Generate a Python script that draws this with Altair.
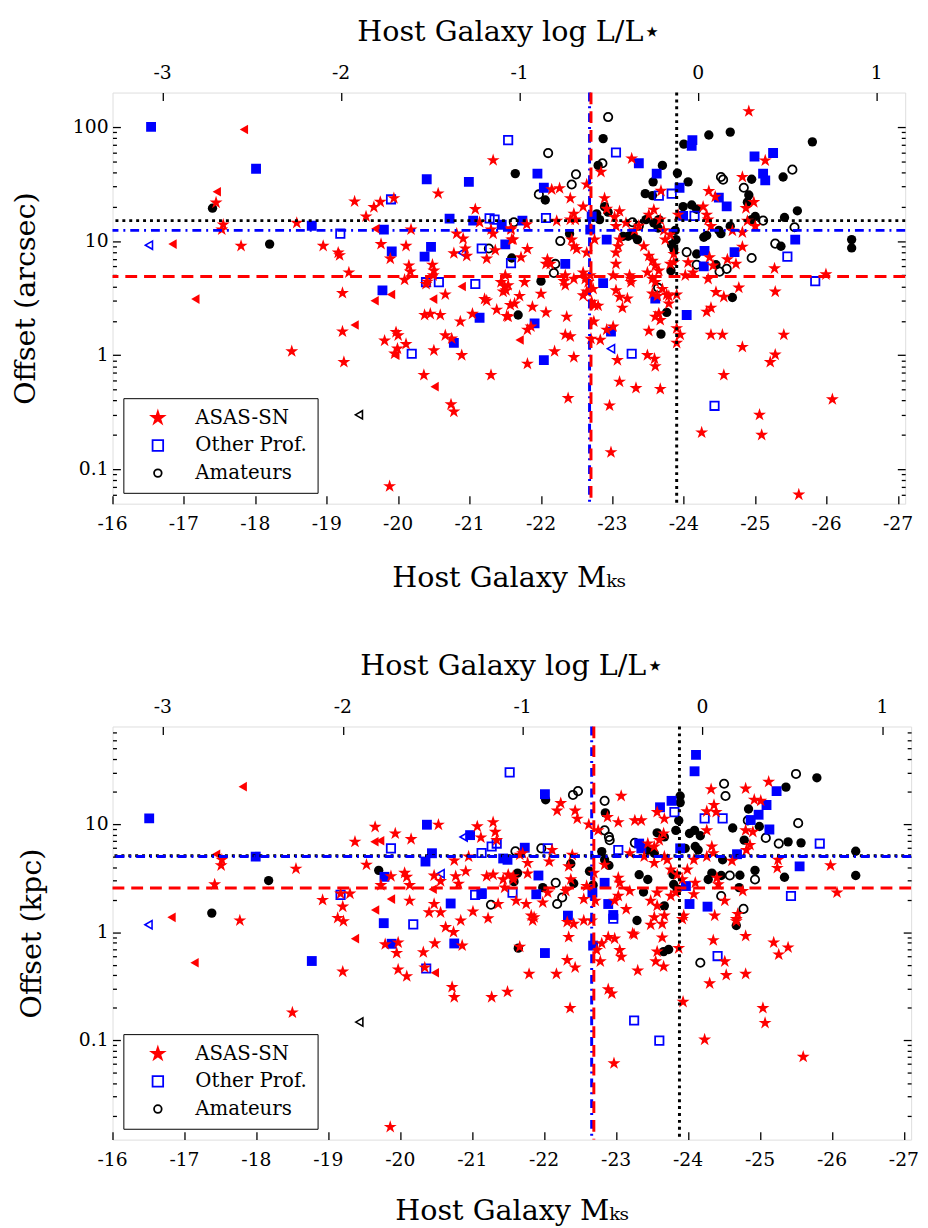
import altair as alt
import pandas as pd

FONT = "DejaVu Serif"
RED, BLUE, BLACK = "#ff0000", "#0000ff", "#000000"
M_STAR = -24.2          # log L/L* = -0.4 (M - M_STAR)

# ---------------- top panel: offset in arcsec ----------------
P1_ASASSN_STAR = [
    (-17.45, 21.7), (-17.55, 13.9), (-17.53, 12.6), (-17.80, 9.06), (-18.58, 14.4), (-18.95, 9.06),
    (-19.16, 7.9), (-19.18, 7.5), (-19.31, 5.3), (-19.22, 3.5), (-19.39, 22.2), (-19.55, 16.4),
    (-19.66, 19.8), (-19.75, 22.0), (-19.94, 23.7), (-19.76, 9.4), (-19.89, 7.0), (-20.18, 12.6),
    (-20.11, 9.06), (-20.15, 6.1), (-20.17, 5.4), (-20.09, 4.57), (-20.48, 6.2), (-20.50, 5.5),
    (-20.49, 5.0), (-20.41, 4.4), (-20.66, 3.4), (-20.56, 26.1), (-20.82, 11.6), (-20.91, 10.5),
    (-20.94, 8.6), (-20.96, 7.4), (-20.78, 7.8), (-21.08, 19.0), (-21.14, 14.6), (-21.33, 51.0),
    (-21.30, 12.6), (-21.33, 11.6), (-21.36, 8.3), (-21.24, 7.0), (-21.58, 12.6), (-21.59, 10.3),
    (-21.50, 5.0), (-21.44, 4.36), (-21.49, 4.0), (-21.51, 3.7), (-21.21, 3.1),
    (-20.39, 4.2), (-20.37, 2.25), (-20.45, 2.3), (-20.59, 2.25), (-20.87, 1.97), (-21.04, 2.3),
    (-21.24, 3.0), (-21.38, 2.5), (-21.52, 2.2), (-21.57, 2.75), (-21.47, 3.6), (-19.22, 1.61),
    (-18.51, 1.08), (-19.24, 0.87), (-19.81, 1.34), (-19.97, 1.59), (-20.00, 1.49), (-20.11, 1.25),
    (-19.99, 1.14), (-19.95, 1.03), (-20.50, 1.1), (-20.66, 1.49), (-20.75, 1.4), (-20.89, 1.0),
    (-20.36, 0.67), (-20.74, 0.37), (-20.78, 0.32), (-21.30, 0.67), (-19.88, 0.071),
    (-24.91, 137.0), (-23.27, 52.8), (-22.84, 40.3), (-22.15, 28.3), (-22.26, 29.0), (-22.64, 31.3),
    (-22.41, 23.7), (-23.68, 27.5), (-25.14, 50.7), (-24.82, 36.4), (-24.35, 27.4), (-24.44, 24.4),
    (-24.27, 20.0), (-24.32, 17.0), (-24.34, 15.4), (-24.38, 13.5), (-24.98, 21.9), (-24.87, 19.4),
    (-24.89, 15.0), (-25.00, 13.5), (-25.27, 5.75), (-25.99, 5.1), (-25.28, 3.6), (-24.77, 3.9),
    (-24.68, 12.3), (-24.82, 11.9), (-24.82, 8.9), (-24.61, 6.9), (-24.73, 6.3), (-24.36, 7.2),
    (-24.41, 6.1), (-24.34, 4.66), (-24.06, 6.5), (-24.13, 5.3), (-24.02, 5.0), (-23.81, 11.4),
    (-23.74, 10.3), (-23.86, 7.7), (-23.86, 6.5), (-23.81, 6.3), (-23.44, 9.0), (-23.51, 7.4),
    (-23.56, 6.7), (-23.60, 6.1), (-23.65, 5.5), (-23.49, 5.3), (-23.56, 4.66), (-23.60, 4.36),
    (-23.70, 3.8), (-23.79, 3.3), (-23.63, 3.3), (-23.51, 17.0), (-23.58, 18.8), (-23.67, 15.4),
    (-23.72, 12.4), (-23.37, 13.6), (-23.31, 12.4), (-23.19, 14.4), (-23.05, 13.5), (-23.10, 18.2),
    (-23.03, 16.2), (-23.92, 17.0), (-23.10, 10.3), (-23.08, 9.0), (-23.05, 7.9), (-23.05, 6.3),
    (-23.26, 4.66), (-23.24, 5.0), (-23.01, 5.0), (-21.58, 12.9), (-21.61, 10.3), (-21.72, 7.2),
    (-21.81, 8.5), (-21.80, 14.0), (-22.22, 15.0), (-22.46, 17.3), (-22.41, 15.4), (-22.48, 15.4),
    (-22.59, 20.0), (-22.89, 23.7), (-22.92, 19.1), (-22.75, 10.3), (-22.64, 7.9), (-22.46, 9.0),
    (-22.50, 8.5), (-22.43, 10.3), (-22.09, 6.9), (-22.07, 6.3), (-22.13, 6.3), (-22.34, 5.0),
    (-22.32, 4.45), (-22.46, 4.66), (-22.59, 5.3), (-22.62, 4.66), (-22.69, 5.0), (-22.66, 4.36),
    (-22.73, 3.8), (-22.64, 3.6), (-21.54, 4.1), (-21.77, 4.36), (-22.00, 3.45), (-21.70, 3.3),
    (-22.34, 4.1), (-21.86, 1.78), (-21.81, 1.67), (-21.54, 2.17), (-21.63, 2.83), (-21.88, 2.65),
    (-22.07, 2.37), (-21.81, 0.84), (-22.19, 1.08), (-22.46, 0.96), (-22.36, 2.17), (-22.34, 1.51),
    (-22.41, 1.46), (-22.38, 0.42), (-22.59, 3.34), (-22.66, 3.57), (-22.71, 2.93), (-22.75, 2.74),
    (-22.80, 2.71), (-22.74, 1.97), (-22.70, 1.39), (-22.83, 1.36), (-22.92, 1.67), (-23.01, 1.78),
    (-23.07, 0.905), (-23.10, 0.585), (-23.33, 0.515), (-23.67, 0.505), (-22.96, 0.362), (-22.98, 0.141),
    (-23.05, 3.7), (-23.10, 3.24), (-23.14, 2.6), (-23.21, 3.13), (-23.26, 4.36), (-23.56, 3.46),
    (-23.76, 3.39), (-23.90, 3.39), (-23.79, 2.83), (-23.65, 2.32), (-23.60, 2.17), (-23.67, 2.03),
    (-23.51, 1.63), (-23.90, 1.72), (-23.95, 1.51), (-23.90, 1.28), (-23.49, 1.0), (-23.59, 0.93),
    (-23.60, 0.80), (-24.32, 2.4), (-24.38, 2.6), (-24.45, 3.57), (-24.56, 3.24), (-24.38, 1.51),
    (-24.54, 1.51), (-24.82, 1.18), (-25.40, 1.51), (-25.28, 1.01), (-25.21, 0.87), (-24.56, 0.67),
    (-26.08, 0.41), (-25.06, 0.30), (-24.25, 0.21), (-25.09, 0.20), (-25.61, 0.06),
]
P1_ASASSN_TRI = [
    (-17.84, 95.0), (-17.46, 27.0), (-16.84, 9.4), (-19.68, 12.8), (-20.89, 4.0), (-19.90, 3.4),
    (-19.67, 3.0), (-17.16, 3.1), (-20.49, 3.1), (-19.39, 1.84), (-19.96, 1.0), (-20.51, 0.53),
    (-21.70, 1.36),
]
P1_OTHER_SQ_FILLED = [
    (-16.54, 100.0), (-18.01, 43.0), (-18.79, 13.6), (-19.80, 12.6), (-19.91, 8.1), (-20.40, 34.8),
    (-20.37, 7.3), (-20.46, 8.9), (-20.72, 15.7), (-20.99, 33.0), (-21.05, 15.1), (-21.45, 13.9),
    (-21.50, 9.35), (-19.78, 3.7), (-21.14, 2.13), (-20.78, 1.28), (-24.12, 76.6), (-24.11, 68.4),
    (-23.37, 48.0), (-21.95, 39.0), (-22.04, 29.3), (-23.62, 39.0), (-23.94, 29.3), (-24.99, 55.0),
    (-25.25, 59.0), (-25.11, 39.0), (-25.14, 34.0), (-24.49, 24.0), (-24.60, 20.1), (-23.99, 16.6),
    (-25.56, 10.3), (-24.71, 8.0), (-24.29, 8.2), (-24.28, 6.0), (-22.87, 4.28), (-21.74, 15.1),
    (-22.69, 12.6), (-22.71, 16.4), (-22.92, 10.3), (-22.34, 6.3), (-21.91, 1.9), (-22.98, 1.61),
    (-23.60, 3.13), (-24.04, 2.25), (-22.04, 0.905),
]
P1_OTHER_SQ_OPEN = [
    (-19.19, 11.6), (-19.90, 23.2), (-20.39, 4.36), (-20.57, 4.36), (-21.28, 15.8), (-21.35, 15.4),
    (-21.54, 76.6), (-21.17, 8.6), (-21.58, 6.4), (-21.08, 4.2), (-20.19, 1.03), (-23.05, 59.6),
    (-23.65, 25.0), (-23.83, 26.0), (-24.15, 16.6), (-25.45, 7.3), (-25.84, 4.45), (-22.07, 15.9),
    (-23.27, 1.03), (-24.43, 0.36),
]
P1_OTHER_TRI_OPEN = [(-16.51, 9.2), (-20.89, 7.9), (-22.98, 1.14)]
P1_AMAT_CIRC_FILLED = [
    (-17.40, 19.4), (-18.20, 9.4), (-21.64, 39.0), (-21.59, 7.1), (-22.87, 79.0), (-24.35, 85.0),
    (-24.65, 90.0), (-24.00, 70.7), (-25.80, 74.0), (-23.70, 46.0), (-22.80, 46.0), (-22.06, 22.9),
    (-23.57, 33.0), (-23.91, 39.4), (-24.06, 33.0), (-23.46, 26.0), (-23.56, 25.0), (-24.95, 34.8),
    (-25.39, 36.4), (-24.91, 25.3), (-24.89, 21.9), (-25.00, 16.4), (-24.95, 15.4), (-25.41, 16.1),
    (-25.59, 18.4), (-25.36, 9.0), (-26.35, 10.3), (-26.35, 8.7), (-24.68, 3.2), (-24.65, 13.5),
    (-24.49, 12.4), (-24.52, 11.6), (-24.28, 10.8), (-24.32, 11.2), (-24.18, 7.7), (-24.45, 6.2),
    (-23.88, 12.4), (-23.89, 10.3), (-23.83, 9.3), (-23.86, 8.5), (-23.82, 5.5), (-23.28, 11.4),
    (-23.35, 10.3), (-23.64, 13.0), (-23.65, 15.4), (-23.58, 14.4), (-23.99, 20.0), (-24.11, 20.7),
    (-24.18, 19.0), (-23.47, 15.4), (-23.15, 11.0), (-23.22, 11.0), (-22.00, 4.45), (-22.40, 11.6),
    (-22.78, 17.3), (-22.82, 15.4), (-22.89, 20.0), (-22.94, 17.9), (-21.68, 2.25), (-23.76, 2.37),
    (-23.68, 1.53),
]
P1_AMAT_CIRC_OPEN = [
    (-21.27, 8.6), (-21.62, 14.6), (-22.94, 122.0), (-22.10, 59.0), (-22.86, 48.0), (-22.49, 38.4),
    (-22.43, 31.3), (-21.97, 25.6), (-24.52, 36.4), (-24.55, 34.5), (-25.52, 42.2), (-24.84, 29.3),
    (-25.11, 15.1), (-25.55, 13.2), (-25.28, 9.5), (-24.95, 7.1), (-24.18, 6.2), (-24.50, 5.4),
    (-24.60, 5.7), (-24.04, 8.0), (-23.28, 14.6), (-23.37, 13.6), (-22.27, 10.0), (-22.20, 6.3),
    (-22.18, 5.25), (-23.64, 3.9),
]
P1_AMAT_TRI_OPEN = [(-19.45, 0.30)]
P1_HLINES = [15.1, 12.4, 4.9]        # amateurs (dotted), other prof. (dash-dot), ASAS-SN (dashed)
P1_VLINES = [-23.90, -22.68, -22.70]

# ---------------- bottom panel: offset in kpc ----------------
P2_ASASSN_STAR = [
    (-20.53, 9.86), (-19.65, 9.4), (-19.37, 6.85), (-19.93, 8.17), (-20.15, 7.25), (-21.07, 9.5),
    (-21.12, 7.5), (-21.29, 10.4), (-21.32, 8.45), (-21.34, 7.1), (-17.52, 4.67), (-17.51, 4.14),
    (-18.55, 3.86), (-17.42, 2.76), (-17.77, 1.28), (-19.53, 4.2), (-19.87, 3.29), (-20.06, 3.53),
    (-20.09, 3.24), (-20.13, 2.72), (-19.73, 2.72), (-20.75, 4.6), (-20.77, 3.29), (-20.81, 2.8),
    (-20.91, 3.66), (-20.95, 5.0), (-20.47, 3.33), (-20.56, 2.96), (-19.30, 2.27), (-19.17, 2.27),
    (-18.92, 1.98), (-19.20, 1.72), (-19.13, 1.35), (-19.21, 1.26), (-20.13, 1.95), (-20.47, 1.82),
    (-20.40, 1.52), (-20.56, 1.52), (-20.63, 1.11), (-20.74, 1.0), (-20.84, 1.28), (-21.01, 1.55),
    (-21.22, 1.34), (-21.36, 1.82), (-21.20, 3.29), (-21.29, 3.4), (-21.43, 3.07), (-21.45, 2.58),
    (-21.50, 3.4), (-21.57, 3.29), (-21.61, 1.95), (-21.66, 5.2),
    (-18.50, 0.18), (-19.86, 0.0157), (-19.20, 0.43), (-19.79, 0.77), (-19.97, 0.80), (-19.95, 0.64),
    (-19.97, 0.45), (-20.09, 0.39), (-20.32, 0.65), (-20.48, 0.785), (-20.34, 0.47), (-20.72, 0.31),
    (-20.75, 0.25), (-20.86, 0.75), (-21.27, 0.25), (-21.49, 0.28),
    (-25.12, 24.6), (-24.80, 21.3), (-24.32, 21.0), (-23.07, 18.2), (-24.92, 16.8), (-25.01, 16.4),
    (-24.36, 15.0), (-24.26, 13.1), (-24.39, 12.9), (-23.57, 12.9), (-23.67, 11.2), (-22.23, 15.6),
    (-22.18, 13.3), (-22.43, 13.3), (-22.46, 11.2), (-22.88, 11.6), (-23.03, 10.4), (-23.26, 10.8),
    (-23.35, 10.8), (-22.62, 9.9), (-22.75, 8.75), (-25.98, 4.14), (-26.07, 2.32), (-25.25, 4.67),
    (-25.24, 3.92), (-24.76, 2.4), (-24.69, 1.47), (-24.67, 1.32), (-24.51, 1.95), (-24.37, 1.42),
    (-24.40, 3.18), (-24.42, 2.76), (-24.61, 4.57), (-24.81, 5.75), (-24.86, 6.4), (-24.90, 8.45),
    (-24.80, 8.75), (-24.26, 8.75), (-24.33, 6.2), (-24.35, 5.37), (-24.26, 5.0), (-24.08, 4.67),
    (-23.99, 3.79), (-23.85, 3.4), (-23.92, 3.07), (-24.10, 2.86), (-24.08, 2.24), (-23.94, 1.42),
    (-23.92, 1.32), (-23.83, 2.32), (-23.76, 3.79), (-23.71, 4.67),
    (-21.70, 5.37), (-21.77, 4.36), (-21.77, 3.48), (-21.57, 3.07), (-21.75, 1.82), (-21.82, 1.42),
    (-21.86, 1.37), (-21.98, 1.88), (-22.05, 2.32), (-22.30, 2.4), (-22.34, 4.06), (-22.37, 3.07),
    (-22.39, 5.18), (-22.11, 5.75), (-22.07, 4.5), (-22.55, 2.02), (-22.59, 2.67), (-22.71, 1.95),
    (-22.69, 3.53), (-23.03, 3.18), (-23.05, 2.86), (-22.84, 4.2), (-23.19, 5.37), (-23.44, 6.6),
    (-23.53, 6.17), (-23.60, 7.1), (-23.66, 8.17), (-23.53, 4.36), (-23.67, 5.0), (-23.39, 5.0),
    (-23.57, 2.32), (-23.48, 1.95), (-23.57, 1.75), (-23.67, 1.42), (-23.53, 1.37), (-23.76, 2.16),
    (-23.19, 2.4), (-23.14, 1.63), (-23.23, 0.97), (-23.03, 2.16), (-22.98, 1.95),
    (-21.66, 0.73), (-21.84, 1.28), (-22.32, 1.24), (-22.41, 1.19), (-22.55, 1.28), (-22.66, 1.28),
    (-22.34, 0.90), (-22.32, 0.55), (-22.43, 0.47), (-21.79, 0.41), (-22.17, 0.41), (-22.36, 0.198),
    (-22.73, 0.68), (-22.78, 0.535), (-22.89, 0.90), (-22.98, 0.87), (-22.80, 0.785), (-23.05, 0.68),
    (-23.07, 0.59), (-22.89, 0.295), (-22.94, 0.27), (-23.30, 0.44), (-23.25, 0.95), (-23.48, 1.17),
    (-23.64, 1.19), (-23.64, 0.89), (-23.57, 0.66), (-23.55, 0.535), (-23.66, 0.48), (-23.87, 0.71),
    (-23.93, 0.226), (-24.35, 0.84), (-24.80, 0.92), (-24.67, 1.26), (-24.51, 0.535), (-24.53, 0.40),
    (-24.80, 0.41), (-24.30, 0.335), (-25.19, 0.80), (-25.26, 0.62), (-25.39, 0.72), (-25.04, 0.198),
    (-25.07, 0.144), (-24.23, 0.101), (-22.97, 0.061), (-25.60, 0.070),
]
P2_ASASSN_TRI = [
    (-17.81, 22.2), (-17.44, 5.26), (-16.82, 1.37), (-19.64, 6.85), (-19.72, 7.0), (-20.45, 2.49),
    (-19.87, 2.02), (-19.65, 1.6), (-17.14, 0.52), (-19.37, 0.87), (-20.48, 0.42),
]
P2_OTHER_SQ_FILLED = [
    (-16.51, 11.3), (-20.37, 9.86), (-20.97, 7.9), (-17.99, 5.0), (-20.44, 5.37), (-20.35, 4.5),
    (-21.43, 4.8), (-21.49, 4.67), (-19.78, 3.25), (-19.77, 1.21), (-20.70, 1.84), (-21.13, 2.25),
    (-18.77, 0.54), (-19.88, 0.78), (-20.75, 0.785), (-24.11, 43.7), (-24.09, 30.8), (-25.23, 20.2),
    (-22.01, 18.9), (-23.77, 16.4), (-23.61, 14.3), (-25.09, 15.0), (-24.98, 12.2), (-24.87, 10.9),
    (-25.13, 8.9), (-25.55, 4.06), (-24.68, 5.26), (-23.89, 5.96), (-24.02, 1.82), (-24.27, 1.72),
    (-23.97, 2.67), (-21.73, 6.04), (-21.92, 3.34), (-21.89, 2.24), (-22.33, 1.42), (-22.89, 1.82),
    (-22.96, 1.44), (-22.84, 2.86), (-22.67, 2.32), (-23.32, 6.6), (-23.35, 5.96), (-22.01, 0.64),
    (-22.68, 0.75),
]
P2_OTHER_SQ_OPEN = [
    (-21.52, 30.1), (-19.87, 5.96), (-21.27, 6.2), (-21.34, 6.6), (-21.13, 5.4), (-19.17, 2.21),
    (-20.18, 1.18), (-21.04, 2.21), (-21.13, 2.29), (-21.56, 2.32), (-20.36, 0.46), (-25.83, 6.6),
    (-24.23, 11.3), (-24.48, 11.3), (-23.81, 12.9), (-23.03, 5.75), (-22.05, 5.96), (-25.43, 2.16),
    (-24.41, 0.60), (-23.25, 0.152), (-23.60, 0.099), (-22.96, 1.33),
]
P2_OTHER_TRI_OPEN = [(-20.88, 7.6), (-20.56, 3.47), (-16.50, 1.17)]
P2_AMAT_CIRC_FILLED = [
    (-18.17, 3.0), (-17.38, 1.5), (-19.70, 3.73), (-21.63, 3.52), (-21.58, 2.93), (-21.64, 0.71),
    (-25.79, 26.8), (-25.36, 22.0), (-23.89, 18.2), (-22.02, 16.8), (-22.85, 12.7), (-24.84, 13.8),
    (-24.99, 9.5), (-24.62, 9.2), (-25.39, 6.85), (-25.57, 6.7), (-26.33, 5.6), (-26.33, 3.34),
    (-25.34, 3.22), (-24.93, 3.73), (-24.72, 3.36), (-24.71, 2.58), (-24.67, 1.15), (-24.33, 3.52),
    (-24.46, 3.34), (-24.28, 3.07), (-24.48, 4.67), (-24.78, 7.1), (-23.89, 15.8), (-23.87, 10.8),
    (-23.83, 8.75), (-24.02, 8.17), (-24.09, 8.75), (-24.17, 7.8), (-24.10, 6.2), (-24.14, 5.75),
    (-23.96, 5.96), (-23.79, 3.4), (-23.80, 2.76), (-23.85, 2.49), (-23.38, 2.35), (-23.29, 1.28),
    (-23.32, 3.4), (-23.44, 3.07), (-23.67, 1.75), (-23.57, 8.3), (-23.67, 7.6), (-23.53, 5.37),
    (-23.44, 5.75), (-22.80, 5.56), (-22.84, 4.67), (-22.90, 4.14), (-22.37, 4.29), (-22.41, 2.82),
    (-21.98, 2.58), (-22.63, 3.66), (-22.68, 2.72), (-23.66, 0.66), (-23.73, 0.69),
]
P2_AMAT_CIRC_OPEN = [
    (-21.60, 5.6), (-21.26, 1.79), (-25.50, 29.1), (-24.50, 23.6), (-24.52, 18.2), (-22.40, 18.6),
    (-22.47, 20.2), (-22.84, 16.4), (-25.53, 10.2), (-25.08, 7.45), (-25.26, 6.6), (-24.83, 10.8),
    (-24.93, 3.07), (-24.46, 2.16), (-24.58, 3.34), (-24.77, 1.64), (-23.26, 6.7), (-22.16, 2.86),
    (-22.25, 2.09), (-22.18, 1.82), (-21.96, 5.96), (-22.90, 7.6), (-22.91, 7.1), (-22.84, 8.75),
    (-24.17, 0.52),
]
P2_AMAT_TRI_OPEN = [(-19.43, 0.147)]
P2_HLINES = [5.1, 5.0, 2.56]
P2_VLINES = [-23.88, -22.66, -22.69]

# ---------------- axes / text ----------------
X_TICKS = [-16, -17, -18, -19, -20, -21, -22, -23, -24, -25, -26, -27]
X_TICK_LABELS = ["-16", "-17", "-18", "-19", "-20", "-21", "-22", "-23", "-24", "-25", "-26", "-27"]
LOGL_TICKS = [-3, -2, -1, 0, 1]
LOGL_TICK_LABELS = ["-3", "-2", "-1", "0", "1"]
P1_Y_TICKS = [0.1, 1, 10, 100]
P1_Y_TICK_LABELS = ["0.1", "1", "10", "100"]
P2_Y_TICKS = [0.1, 1, 10]
P2_Y_TICK_LABELS = ["0.1", "1", "10"]
GROUPS = ["ASAS-SN", "Other Prof.", "Amateurs"]
TOP_TITLE = "Host Galaxy log L/L\u22c6"
BOTTOM_TITLE = "Host Galaxy M\u2096\u209b"

STAR = ("M0,-1L0.2245,-0.309L0.951,-0.309L0.363,0.118L0.588,0.809L0,0.382"
        "L-0.588,0.809L-0.363,0.118L-0.951,-0.309L-0.2245,-0.309Z")

STYLE = {
    "star": dict(shape=STAR, filled=True, color=RED, size=190, opacity=1),
    "rtri": dict(shape="triangle-left", filled=True, color=RED, size=95, opacity=1),
    "bsq": dict(shape="square", filled=True, color=BLUE, size=100, opacity=1),
    "bsq_o": dict(shape="square", filled=False, color=BLUE, size=72, strokeWidth=1.8, opacity=1),
    "btri_o": dict(shape="triangle-left", filled=False, color=BLUE, size=70, strokeWidth=1.6, opacity=1),
    "kc": dict(shape="circle", filled=True, color=BLACK, size=90, opacity=1),
    "kc_o": dict(shape="circle", filled=False, color=BLACK, size=72, strokeWidth=1.8, opacity=1),
    "ktri_o": dict(shape="triangle-left", filled=False, color=BLACK, size=70, strokeWidth=1.6, opacity=1),
}
LINE_STYLE = [
    dict(color=BLACK, strokeWidth=3, strokeDash=[3, 4]),
    dict(color=BLUE, strokeWidth=3, strokeDash=[9, 5, 2, 5]),
    dict(color=RED, strokeWidth=3, strokeDash=[12, 7]),
]
LABEL_SIZE = 19
TITLE_SIZE = 29
LEGEND_SIZE = 20


def minor_ticks(lo, hi):
    out = []
    d = 0.001
    while d < hi * 10:
        for m in range(2, 10):
            v = round(m * d, 6)
            if lo < v < hi:
                out.append(v)
        d *= 10
    return out


def panel(series, hlines, vlines, ydom, yticks, ylabels, ytitle, width, height, ytitle_pad, xtitle_pad):
    xs = alt.Scale(domain=[-16, -27.1], nice=False, zero=False)
    ys = alt.Scale(type="log", domain=ydom, nice=False)

    def X(axis=None):
        return alt.X("M:Q", scale=xs, axis=axis)

    def Y(axis=None):
        return alt.Y("off:Q", scale=ys, axis=axis)

    dummy = pd.DataFrame({"M": [-20.0], "off": [1.0]})

    def axis_layer(xaxis=None, yaxis=None):
        return alt.Chart(dummy).mark_point(opacity=0).encode(x=X(xaxis), y=Y(yaxis))

    def tick_axis(orient, values, size):
        return alt.Axis(orient=orient, values=values, tickSize=size, offset=-size, labels=False,
                        domain=False, grid=False, title=None, tickColor=BLACK, tickWidth=1.3,
                        minExtent=0, maxExtent=0)

    def title_axis(orient, title, pad):
        return alt.Axis(orient=orient, labels=False, ticks=False, tickSize=0, domain=False,
                        grid=False, title=title, titlePadding=pad, titleFont=FONT,
                        titleFontSize=TITLE_SIZE, titleFontWeight="normal", titleColor=BLACK,
                        minExtent=0, maxExtent=0)

    text_style = dict(font=FONT, fontSize=LABEL_SIZE, color=BLACK)

    layers = []
    for pairs, key in series:
        df = pd.DataFrame(pairs, columns=["M", "off"])
        layers.append(alt.Chart(df).mark_point(clip=True, **STYLE[key]).encode(x=X(), y=Y()))

    for val, st in zip(vlines, LINE_STYLE):
        layers.append(alt.Chart(pd.DataFrame({"M": [val]})).mark_rule(**st).encode(x=X()))
    for val, st in zip(hlines, LINE_STYLE):
        layers.append(alt.Chart(pd.DataFrame({"off": [val]})).mark_rule(**st).encode(y=Y()))

    # legend layer (points placed outside the domain and clipped; only the legend shows)
    leg = alt.Legend(title=None, orient="bottom-left", offset=11, labelFont=FONT,
                     labelFontSize=LEGEND_SIZE, labelColor=BLACK, strokeColor=BLACK,
                     fillColor="white", padding=10, rowPadding=8, labelOffset=28, symbolOffset=15,
                     symbolStrokeWidth=1.8, cornerRadius=0)
    ldf = pd.DataFrame({"M": [0.0, 0.0, 0.0], "off": [1.0, 1.0, 1.0], "grp": GROUPS})
    layers.append(alt.Chart(ldf).mark_point(clip=True, opacity=1, strokeWidth=1.8).encode(
        x=X(), y=Y(),
        stroke=alt.Stroke("grp:N", scale=alt.Scale(domain=GROUPS, range=[RED, BLUE, BLACK]), legend=leg),
        fill=alt.Fill("grp:N", scale=alt.Scale(domain=GROUPS, range=[RED, "white", "white"]), legend=leg),
        shape=alt.Shape("grp:N", scale=alt.Scale(domain=GROUPS, range=[STAR, "square", "circle"]), legend=leg),
        size=alt.Size("grp:N", scale=alt.Scale(domain=GROUPS, range=[170, 60, 60]), legend=leg),
    ))

    # tick labels (text through the same scales)
    top_vals = [M_STAR - 2.5 * v for v in LOGL_TICKS]
    bl = pd.DataFrame({"M": X_TICKS, "lab": X_TICK_LABELS})
    layers.append(alt.Chart(bl).mark_text(baseline="middle", align="center", **text_style).encode(
        x=X(), y=alt.value(height + 21), text="lab:N"))
    tl = pd.DataFrame({"M": top_vals, "lab": LOGL_TICK_LABELS})
    layers.append(alt.Chart(tl).mark_text(baseline="middle", align="center", **text_style).encode(
        x=X(), y=alt.value(-20), text="lab:N"))
    ll = pd.DataFrame({"off": yticks, "lab": ylabels})
    layers.append(alt.Chart(ll).mark_text(baseline="middle", align="right", **text_style).encode(
        y=Y(), x=alt.value(-4), text="lab:N"))

    # titles
    layers.append(axis_layer(xaxis=title_axis("bottom", BOTTOM_TITLE, xtitle_pad),
                             yaxis=title_axis("left", ytitle, ytitle_pad)))
    layers.append(axis_layer(xaxis=title_axis("top", TOP_TITLE, 47)))

    # inward tick axes
    ymin = minor_ticks(ydom[0], ydom[1])
    layers.append(axis_layer(xaxis=tick_axis("bottom", X_TICKS, 8)))
    layers.append(axis_layer(xaxis=tick_axis("top", top_vals, 8)))
    layers.append(axis_layer(yaxis=tick_axis("left", yticks, 8)))
    layers.append(axis_layer(yaxis=tick_axis("left", ymin, 4)))
    layers.append(axis_layer(yaxis=tick_axis("right", yticks, 8)))
    layers.append(axis_layer(yaxis=tick_axis("right", ymin, 4)))

    return alt.layer(*layers).resolve_axis(x="independent", y="independent").properties(
        width=width, height=height)


top = panel(
    [(P1_AMAT_CIRC_OPEN, "kc_o"), (P1_AMAT_CIRC_FILLED, "kc"), (P1_AMAT_TRI_OPEN, "ktri_o"),
     (P1_OTHER_SQ_OPEN, "bsq_o"), (P1_OTHER_SQ_FILLED, "bsq"), (P1_OTHER_TRI_OPEN, "btri_o"),
     (P1_ASASSN_STAR, "star"), (P1_ASASSN_TRI, "rtri")],
    P1_HLINES, P1_VLINES, [0.05, 200], P1_Y_TICKS, P1_Y_TICK_LABELS, "Offset (arcsec)",
    804, 417, 73, 61)

bottom = panel(
    [(P2_AMAT_CIRC_OPEN, "kc_o"), (P2_AMAT_CIRC_FILLED, "kc"), (P2_AMAT_TRI_OPEN, "ktri_o"),
     (P2_OTHER_SQ_OPEN, "bsq_o"), (P2_OTHER_SQ_FILLED, "bsq"), (P2_OTHER_TRI_OPEN, "btri_o"),
     (P2_ASASSN_STAR, "star"), (P2_ASASSN_TRI, "rtri")],
    P2_HLINES, P2_VLINES, [0.012, 80], P2_Y_TICKS, P2_Y_TICK_LABELS, "Offset (kpc)",
    810, 419, 67, 58)

chart = alt.vconcat(top, bottom, spacing=58).resolve_scale(
    stroke="independent", fill="independent", shape="independent", size="independent"
).resolve_legend(
    stroke="independent", fill="independent", shape="independent", size="independent"
).properties(
    padding={"left": 3, "top": 0, "right": 0, "bottom": 0}
).configure_view(stroke=BLACK, strokeWidth=2).configure(background="white")

chart.save("out.html", embed_options={"renderer": "svg", "actions": False})
